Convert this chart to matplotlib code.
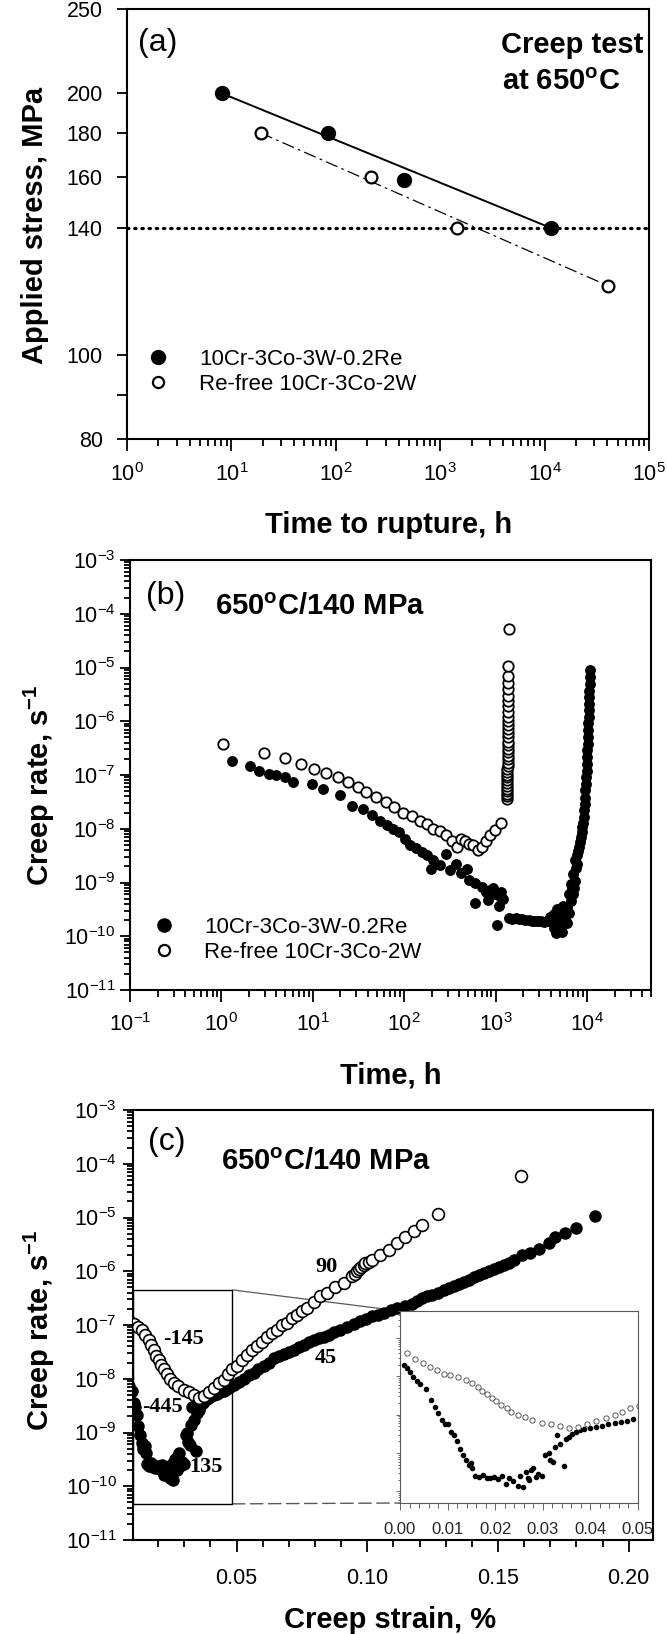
import matplotlib
matplotlib.use('Agg')
from matplotlib import pyplot as plt
from matplotlib import ticker
from matplotlib.lines import Line2D
from matplotlib.patches import Rectangle, ConnectionPatch

W, H = 667, 1634

# ---------------- data ----------------
# (a) applied stress vs time to rupture
a_re_time = [8.05, 84.5, 446, 11400]
a_re_stress = [200, 180, 159, 140]
a_free_time = [19.1, 216, 1457, 40900]
a_free_stress = [180, 160, 140, 120]
a_test_stress = 140
a_yticks = [80, 90, 100, 140, 160, 180, 200, 250]
a_yticklabels = ['80', '', '100', '140', '160', '180', '200', '250']

legend_labels = ['10Cr-3Co-3W-0.2Re', 'Re-free 10Cr-3Co-2W']

# (b) creep rate vs time, 650C / 140 MPa
b_re_time = [1.32, 2.05, 2.6, 3.3, 4.0, 4.9, 6.0, 9.9, 12.9, 19.8,
             27, 35.5, 44, 54, 64, 75, 88, 103, 115, 135,
             158, 177, 196, 207, 243, 285, 317, 372, 415, 488,
             512, 600, 600, 706, 787, 830, 877, 930, 977, 1030,
             1090, 1150, 1150, 1210,
             # steady state
             1410, 1500, 1660, 1800, 1950, 2100, 2290, 2500, 2690, 2900,
             3150, 3400, 3700, 3900, 4120, 4360, 4580, 4800, 5050, 5350,
             5650, 6000, 6300, 6650, 4300, 4700, 5200, 5500, 5800, 6100, 6400,
             # tertiary
             6670, 6900, 7030, 7030, 7200, 7410, 7410, 7600, 7810, 7810,
             8000, 8240, 8400, 8510, 8700, 8900, 9050, 9190, 9300, 9380,
             9470, 9560, 9660, 9770, 9870, 9980, 10040, 10100, 10150, 10200,
             10250, 10300, 10370, 10430, 10490, 10540, 10600, 10650, 10710, 10770]
b_re_rate = [1.8e-7, 1.45e-7, 1.2e-7, 1.05e-7, 1.0e-7, 9e-8, 7.4e-8, 6.8e-8, 5.4e-8, 4.2e-8,
             2.7e-8, 2.3e-8, 1.8e-8, 1.4e-8, 1.15e-8, 1.0e-8, 8.7e-9, 6.5e-9, 4.9e-9, 4.3e-9,
             3.7e-9, 3.2e-9, 1.8e-9, 2.6e-9, 2.1e-9, 3.4e-9, 1.7e-9, 2.2e-9, 1.5e-9, 1.8e-9,
             1.1e-9, 1.0e-9, 4.2e-10, 8.1e-10, 6.6e-10, 4.8e-10, 7.1e-10, 8e-10, 6.1e-10, 1.65e-10,
             3.6e-10, 6.6e-10, 5.2e-10, 5e-10,
             2.2e-10, 2.1e-10, 2.2e-10, 2.1e-10, 2.1e-10, 2.0e-10, 2.0e-10, 1.95e-10, 1.95e-10, 1.9e-10,
             1.9e-10, 1.85e-10, 1.95e-10, 2.3e-10, 2.2e-10, 1.4e-10, 1.15e-10, 2.0e-10, 2.5e-10, 1.2e-10,
             3.0e-10, 1.8e-10, 2.7e-10, 4.5e-10, 2.6e-10, 3.2e-10, 1.6e-10, 3.6e-10, 2.4e-10, 3.4e-10, 6e-10,
             9.5e-10, 7.5e-10, 1.45e-9, 6e-10, 8e-10, 2.6e-9, 1.05e-9, 1.9e-9, 3.2e-9, 2.2e-9,
             3.9e-9, 4.6e-9, 5.6e-9, 6.9e-9, 8.6e-9, 1.07e-8, 1.3e-8, 1.65e-8, 2.2e-8, 2.9e-8,
             3.8e-8, 5.2e-8, 6.8e-8, 9e-8, 1.2e-7, 1.6e-7, 2.2e-7, 2.9e-7, 3.8e-7, 5.1e-7,
             6.8e-7, 9.1e-7, 1.2e-6, 1.6e-6, 2.1e-6, 2.8e-6, 3.7e-6, 5e-6, 6.8e-6, 9.1e-6]
b_free_time = [1.05, 2.9, 4.9, 7.4, 10.4, 13.9, 18.7, 24.5, 31, 38,
               49, 63, 78, 98, 121, 150, 177, 208, 244, 285,
               335, 373, 415, 460, 510, 570, 637, 706, 787, 877,
               977, 1150,
               1320, 1325, 1330, 1330, 1335, 1335, 1340, 1340, 1340, 1345,
               1345, 1345, 1350, 1350, 1350, 1350, 1355, 1355, 1355, 1355,
               1360, 1360, 1360, 1360, 1365, 1365, 1365, 1370, 1370, 1370,
               1375, 1375, 1375, 1380, 1385]
b_free_rate = [3.8e-7, 2.6e-7, 2.1e-7, 1.6e-7, 1.3e-7, 1.1e-7, 9.1e-8, 7.4e-8, 6.0e-8, 4.8e-8,
               3.9e-8, 3.2e-8, 2.5e-8, 2.0e-8, 1.7e-8, 1.4e-8, 1.2e-8, 1.0e-8, 8.9e-9, 7.5e-9,
               6.0e-9, 4.6e-9, 6.5e-9, 6.0e-9, 5.2e-9, 4.9e-9, 4.0e-9, 4.6e-9, 6.0e-9, 7.5e-9,
               9.3e-9, 1.3e-8,
               3.6e-8, 4.0e-8, 4.5e-8, 5.0e-8, 5.6e-8, 6.3e-8, 7.0e-8, 8.0e-8, 9.0e-8, 1.0e-7,
               1.15e-7, 1.3e-7, 1.5e-7, 1.7e-7, 2.0e-7, 2.3e-7, 2.7e-7, 3.1e-7, 3.6e-7, 4.2e-7,
               5.0e-7, 6.0e-7, 7.2e-7, 8.5e-7, 1.0e-6, 1.2e-6, 1.5e-6, 1.9e-6, 2.4e-6, 3.0e-6,
               3.9e-6, 5.2e-6, 7.0e-6, 1.05e-5, 5.1e-5]

# (c) creep rate vs creep strain
c_re_strain = [0.0008, 0.0014, 0.002, 0.0027, 0.0035, 0.0043, 0.0055, 0.0065, 0.0074, 0.008,
               0.0088, 0.0095, 0.0101, 0.0107, 0.0113, 0.0119, 0.0125, 0.0132, 0.0138, 0.0144,
               0.0149, 0.0152, 0.0158, 0.0166, 0.0174, 0.0182, 0.0190, 0.0198, 0.0206, 0.0215,
               0.0222, 0.0230, 0.0238, 0.0247, 0.0252, 0.0258, 0.0264, 0.0268, 0.0272, 0.0276,
               0.028, 0.0285, 0.029, 0.0298, 0.0305, 0.0312, 0.0316, 0.0321, 0.0326, 0.033,
               0.0337, 0.0345, 0.0349, 0.0355, 0.0361, 0.0370, 0.0378, 0.0387, 0.0400, 0.0412,
               0.0425, 0.0438, 0.0451, 0.0464, 0.0476, 0.0489, 0.0508, 0.0527, 0.0546, 0.0565,
               0.0584, 0.0604, 0.0623, 0.0642, 0.0661, 0.068, 0.0699, 0.0718, 0.0738, 0.0757,
               0.0776, 0.0795, 0.0814, 0.0833, 0.0852, 0.0871, 0.0897, 0.0923, 0.0948, 0.0974,
               0.0996, 0.1018, 0.104, 0.1063, 0.1089, 0.1114, 0.1143, 0.1171, 0.119, 0.121,
               0.1229, 0.1248, 0.127, 0.1292, 0.1311, 0.1331, 0.135, 0.1369, 0.1388, 0.1407,
               0.1426, 0.1445, 0.1465, 0.1484, 0.1503, 0.1522, 0.1541, 0.156, 0.1592, 0.1624,
               0.1656, 0.1694, 0.172, 0.1756, 0.18, 0.1873]
c_re_rate = [2.0e-7, 1.6e-7, 1.27e-7, 9.7e-8, 7.6e-8, 6.4e-8, 4.6e-8, 2.4e-8, 1.6e-8, 1.1e-8,
             7.3e-9, 5.6e-9, 5.8e-9, 3.6e-9, 3.0e-9, 2.1e-9, 1.3e-9, 9.0e-10, 6.5e-10, 5.0e-10,
             5.5e-10, 4.2e-10, 2.6e-10, 2.4e-10, 2.7e-10, 2.3e-10, 2.2e-10, 2.4e-10, 2.1e-10, 2.5e-10,
             1.6e-10, 2.2e-10, 1.9e-10, 1.4e-10, 2.6e-10, 1.3e-10, 3.2e-10, 2.3e-10, 2.0e-10, 3.6e-10,
             4.2e-10, 2.4e-10, 2.8e-10, 2.6e-10, 9.0e-10, 1.0e-9, 6.6e-10, 5.9e-10, 1.4e-9, 3.0e-9,
             1.7e-9, 4.5e-10, 2.3e-9, 2.6e-9, 3.1e-9, 3.6e-9, 4.0e-9, 4.2e-9, 4.5e-9, 4.9e-9,
             5.2e-9, 5.6e-9, 6.0e-9, 6.5e-9, 7.0e-9, 7.6e-9, 8.6e-9, 1.0e-8, 1.15e-8, 1.3e-8,
             1.5e-8, 1.75e-8, 2.0e-8, 2.4e-8, 2.6e-8, 2.9e-8, 3.2e-8, 3.5e-8, 3.9e-8, 4.3e-8,
             4.8e-8, 5.3e-8, 5.7e-8, 6.1e-8, 6.6e-8, 7.3e-8, 8.2e-8, 9.3e-8, 1.05e-7, 1.2e-7,
             1.3e-7, 1.44e-7, 1.55e-7, 1.7e-7, 1.9e-7, 2.1e-7, 2.3e-7, 2.5e-7, 2.8e-7, 3.2e-7,
             3.4e-7, 3.6e-7, 4.0e-7, 4.5e-7, 4.9e-7, 5.3e-7, 5.8e-7, 6.4e-7, 7.0e-7, 7.7e-7,
             8.4e-7, 9.2e-7, 1.0e-6, 1.1e-6, 1.2e-6, 1.3e-6, 1.45e-6, 1.6e-6, 2.0e-6, 2.2e-6,
             2.6e-6, 3.3e-6, 4.3e-6, 5.1e-6, 6.3e-6, 1.05e-5]
c_free_strain = [0.0014, 0.0032, 0.0049, 0.0064, 0.0078, 0.0092, 0.0106, 0.0122, 0.0139, 0.0151,
                 0.0164, 0.0173, 0.0183, 0.0193, 0.0202, 0.0212, 0.0224, 0.0234, 0.0247, 0.0262,
                 0.0278, 0.0298, 0.0317, 0.0336, 0.0355, 0.0374, 0.0393, 0.0412, 0.0432, 0.0451,
                 0.0467, 0.0483, 0.0502, 0.0521, 0.054, 0.0559, 0.0578, 0.0598, 0.0617, 0.0636,
                 0.0655, 0.0674, 0.0693, 0.0712, 0.0731, 0.0751, 0.077, 0.0795, 0.0821, 0.0846,
                 0.0878, 0.091, 0.0942, 0.0955, 0.0961, 0.097, 0.0978, 0.0986, 0.0993, 0.1005,
                 0.1018, 0.105, 0.1082, 0.1114, 0.1146, 0.1178, 0.121, 0.1271, 0.159]
c_free_rate = [4.1e-7, 2.8e-7, 2.2e-7, 1.7e-7, 1.45e-7, 1.15e-7, 1.05e-7, 9.3e-8, 8.1e-8, 6.6e-8,
               5.3e-8, 4.2e-8, 3.4e-8, 2.7e-8, 2.2e-8, 1.8e-8, 1.5e-8, 1.2e-8, 1.0e-8, 8.5e-9,
               7.2e-9, 6.1e-9, 5.6e-9, 5.0e-9, 4.4e-9, 4.7e-9, 5.7e-9, 6.7e-9, 8.3e-9, 9.5e-9,
               1.2e-8, 1.5e-8, 1.7e-8, 2.2e-8, 2.8e-8, 3.5e-8, 4.1e-8, 4.9e-8, 5.9e-8, 7.0e-8,
               8.1e-8, 9.8e-8, 1.1e-7, 1.35e-7, 1.55e-7, 1.8e-7, 2.1e-7, 2.7e-7, 3.4e-7, 4.0e-7,
               5.0e-7, 6.0e-7, 8.0e-7, 9.0e-7, 1.0e-6, 1.1e-6, 1.2e-6, 1.3e-6, 1.4e-6, 1.5e-6,
               1.6e-6, 2.0e-6, 2.5e-6, 3.3e-6, 4.4e-6, 5.5e-6, 7.3e-6, 1.17e-5, 5.9e-5]
c_slope_labels = ['-145', '-445', '135', '90', '45']

# ---------------- style ----------------
plt.rcParams['font.family'] = ['Liberation Sans', 'DejaVu Sans']
plt.rcParams['mathtext.fontset'] = 'custom'
plt.rcParams['mathtext.rm'] = 'Liberation Sans'
plt.rcParams['mathtext.it'] = 'Liberation Sans:italic'
plt.rcParams['mathtext.bf'] = 'Liberation Sans:bold'
plt.rcParams['axes.linewidth'] = 1.5

TICK_FS = 15.5
LABEL_FS = 21
NOTE_FS = 21


def rect(l, t, r, b):
    return [l / W, 1 - b / H, (r - l) / W, (b - t) / H]


def fx(x):
    return x / W


def fy(y):
    return 1 - y / H


def style_ticks(ax, xpad, ypad):
    ax.tick_params(which='both', direction='out', top=False, right=False,
                   labelsize=TICK_FS, width=1.3)
    ax.tick_params(axis='x', which='major', length=8.5, pad=xpad)
    ax.tick_params(axis='x', which='minor', length=5)
    ax.tick_params(axis='y', which='major', length=7.5, pad=ypad)
    ax.tick_params(axis='y', which='minor', length=4)


def log_axis(axis, subs=True):
    axis.set_major_locator(ticker.LogLocator(base=10, numticks=30))
    if subs:
        axis.set_minor_locator(ticker.LogLocator(base=10, subs=range(2, 10), numticks=30))
    else:
        axis.set_minor_locator(ticker.NullLocator())
    axis.set_minor_formatter(ticker.NullFormatter())


fig = plt.figure(figsize=(W / 100, H / 100), dpi=100)

# ---------------- (a) ----------------
ax1 = fig.add_axes(rect(127, 9, 649, 439))
ax1.set_xscale('log')
ax1.set_yscale('log')
ax1.set_xlim(1, 1e5)
ax1.set_ylim(80, 250)
ax1.axhline(a_test_stress, color='k', lw=2.3, linestyle=(0, (0.45, 1.8)),
            dash_capstyle='round', zorder=1)
ax1.plot([a_re_time[0], a_re_time[-1]], [a_re_stress[0], a_re_stress[-1]],
         color='k', lw=1.4, zorder=2)
ax1.plot([a_free_time[0], a_free_time[-1]], [a_free_stress[0], a_free_stress[-1]],
         color='k', lw=0.9, linestyle=(0, (10, 3.5, 2, 3.5)), zorder=2)
ax1.plot(a_re_time, a_re_stress, 'o', ms=10, mfc='k', mec='k', zorder=3)
ax1.plot(a_free_time, a_free_stress, 'o', ms=8.5, mfc='white', mec='k', mew=1.6, zorder=3)
log_axis(ax1.xaxis)
ax1.yaxis.set_major_locator(ticker.FixedLocator(a_yticks))
ax1.yaxis.set_major_formatter(ticker.FixedFormatter(a_yticklabels))
ax1.yaxis.set_minor_locator(ticker.NullLocator())
style_ticks(ax1, xpad=9, ypad=10)

h_a = [Line2D([], [], ls='', marker='o', ms=10, mfc='k', mec='k'),
       Line2D([], [], ls='', marker='o', ms=8, mfc='white', mec='k', mew=1.6)]
ax1.legend(h_a, legend_labels, loc='upper left', bbox_to_anchor=(fx(147), fy(349)),
           bbox_transform=fig.transFigure, frameon=False, fontsize=16,
           handlelength=1.0, handletextpad=1.34, labelspacing=0.18,
           borderpad=0, borderaxespad=0)
fig.text(fx(158), fy(43), '(a)', fontsize=23, ha='center', va='center')
fig.text(fx(572), fy(53), 'Creep test', fontsize=NOTE_FS, fontweight='bold',
         ha='center', va='baseline')
fig.text(fx(561), fy(90), r'at 650$^{\mathbf{o}}$C', fontsize=NOTE_FS, fontweight='bold',
         ha='center', va='baseline')
fig.text(fx(35), fy(225), 'Applied stress, MPa', fontsize=LABEL_FS, fontweight='bold',
         rotation=90, ha='center', va='center')
fig.text(fx(389), fy(533), 'Time to rupture, h', fontsize=LABEL_FS, fontweight='bold',
         ha='center', va='baseline')

# ---------------- (b) ----------------
ax2 = fig.add_axes(rect(130, 560, 651, 990))
ax2.set_xscale('log')
ax2.set_yscale('log')
ax2.set_xlim(0.1, 5e4)
ax2.set_ylim(1e-11, 1e-3)
ax2.plot(b_re_time, b_re_rate, 'o', ms=6.8, mfc='k', mec='k', zorder=3)
ax2.plot(b_free_time, b_free_rate, 'o', ms=7.5, mfc='white', mec='k', mew=1.3, zorder=3)
log_axis(ax2.xaxis)
log_axis(ax2.yaxis)
style_ticks(ax2, xpad=8, ypad=3)

h_b = [Line2D([], [], ls='', marker='o', ms=9.5, mfc='k', mec='k'),
       Line2D([], [], ls='', marker='o', ms=8, mfc='white', mec='k', mew=1.6)]
ax2.legend(h_b, legend_labels, loc='upper left', bbox_to_anchor=(fx(153), fy(917)),
           bbox_transform=fig.transFigure, frameon=False, fontsize=16,
           handlelength=1.0, handletextpad=1.30, labelspacing=0.18,
           borderpad=0, borderaxespad=0)
fig.text(fx(166), fy(596), '(b)', fontsize=23, ha='center', va='center')
fig.text(fx(215), fy(615), r'650$^{\mathbf{o}}$C/140 MPa', fontsize=NOTE_FS,
         fontweight='bold', ha='left', va='baseline')
fig.text(fx(39), fy(785), r'Creep rate, s$^{\mathbf{-1}}$', fontsize=LABEL_FS,
         fontweight='bold', rotation=90, ha='center', va='center')
fig.text(fx(391), fy(1083), 'Time, h', fontsize=LABEL_FS, fontweight='bold',
         ha='center', va='baseline')

# ---------------- (c) ----------------
ax3 = fig.add_axes(rect(133, 1110, 653, 1540))
ax3.set_yscale('log')
ax3.set_xlim(0.0104, 0.2093)
ax3.set_ylim(1e-11, 1e-3)
ax3.plot(c_re_strain, c_re_rate, 'o', ms=8, mfc='k', mec='k', zorder=3)
ax3.plot(c_free_strain, c_free_rate, 'o', ms=8.5, mfc='white', mec='k', mew=1.2, zorder=4)
ax3.xaxis.set_major_locator(ticker.FixedLocator([0.05, 0.10, 0.15, 0.20]))
ax3.xaxis.set_major_formatter(ticker.FormatStrFormatter('%.2f'))
ax3.xaxis.set_minor_locator(ticker.MultipleLocator(0.01))
log_axis(ax3.yaxis)
style_ticks(ax3, xpad=12, ypad=4)

# zoom box and connectors
box_x0, box_x1 = 0.0104, 0.0484
box_y0, box_y1 = 4.7e-11, 4.5e-7
ax3.add_patch(Rectangle((box_x0, box_y0), box_x1 - box_x0, box_y1 - box_y0,
                        fill=False, ec='k', lw=1.0, zorder=2))

axin = fig.add_axes(rect(400, 1311, 638, 1503))
axin.set_yscale('log')
axin.set_xlim(0, 0.05)
axin.set_ylim(5e-11, 5e-6)
axin.plot(c_re_strain, c_re_rate, 'o', ms=3, mfc='k', mec='k')
axin.plot(c_free_strain, c_free_rate, 'o', ms=3.8, mfc='white', mec='0.25', mew=0.6)
for s in axin.spines.values():
    s.set_linewidth(0.8)
    s.set_color('0.35')
axin.xaxis.set_major_locator(ticker.MultipleLocator(0.01))
axin.xaxis.set_minor_locator(ticker.MultipleLocator(0.002))
axin.xaxis.set_major_formatter(ticker.FormatStrFormatter('%.2f'))
axin.yaxis.set_major_locator(ticker.LogLocator(base=10, numticks=30))
axin.yaxis.set_minor_locator(ticker.LogLocator(base=10, subs=range(2, 10), numticks=30))
axin.yaxis.set_major_formatter(ticker.NullFormatter())
axin.yaxis.set_minor_formatter(ticker.NullFormatter())
axin.tick_params(which='both', direction='out', color='0.4', width=0.7,
                 top=False, right=False, labelsize=12, labelcolor='0.15')
axin.tick_params(axis='x', which='major', length=5, pad=9)
axin.tick_params(axis='x', which='minor', length=3.5)
axin.tick_params(axis='y', which='major', length=3)
axin.tick_params(axis='y', which='minor', length=1.5)

con1 = ConnectionPatch(xyA=(box_x1, box_y1), coordsA=ax3.transData,
                       xyB=(0, 1), coordsB=axin.transAxes, color='0.35', lw=0.9)
con2 = ConnectionPatch(xyA=(box_x1, box_y0), coordsA=ax3.transData,
                       xyB=(0, 0), coordsB=axin.transAxes, color='0.35', lw=1.0,
                       linestyle=(0, (9, 4)))
for con in (con1, con2):
    con.set_zorder(1)
    ax3.add_artist(con)

slope_pos = [(183, 1339), (162, 1407), (206, 1467), (327, 1267), (326, 1358)]
for txt, (px, py) in zip(c_slope_labels, slope_pos):
    fig.text(fx(px), fy(py), txt, fontsize=16, family='Liberation Serif',
             fontweight='bold', ha='center', va='center')

fig.text(fx(167), fy(1142), '(c)', fontsize=23, ha='center', va='center')
fig.text(fx(221), fy(1170), r'650$^{\mathbf{o}}$C/140 MPa', fontsize=NOTE_FS,
         fontweight='bold', ha='left', va='baseline')
fig.text(fx(39), fy(1330), r'Creep rate, s$^{\mathbf{-1}}$', fontsize=LABEL_FS,
         fontweight='bold', rotation=90, ha='center', va='center')
fig.text(fx(390), fy(1628), 'Creep strain, %', fontsize=LABEL_FS, fontweight='bold',
         ha='center', va='baseline')

fig.savefig('out.png', dpi=100)
